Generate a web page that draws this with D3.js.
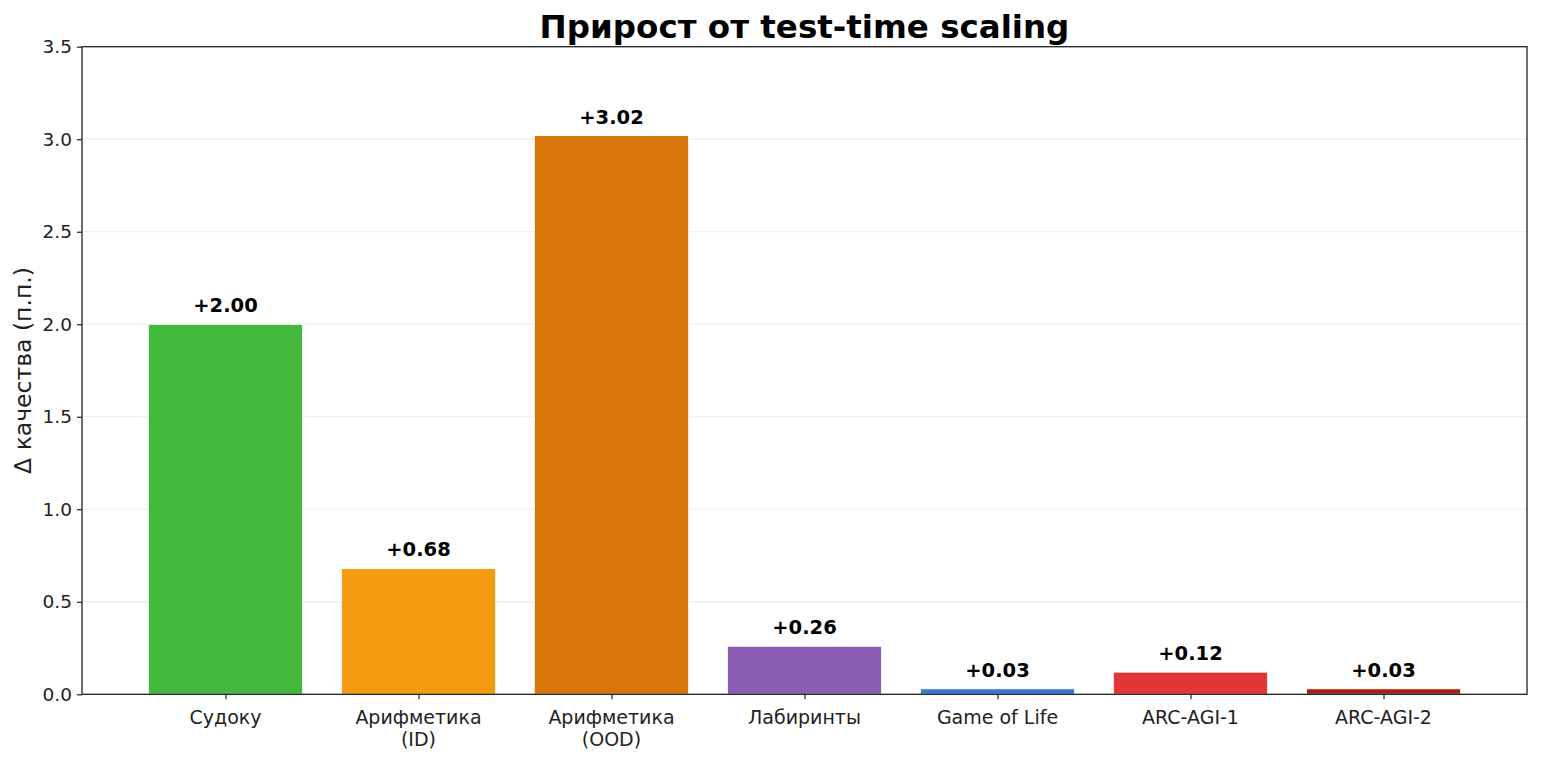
<!DOCTYPE html>
<html lang="ru">
<head>
<meta charset="UTF-8">
<title>Прирост от test-time scaling</title>
<script src="https://d3js.org/d3.v7.min.js"></script>
<style>
  body { margin: 0; background: #fff; }
  text { font-family: "DejaVu Sans", sans-serif; }
</style>
</head>
<body>
<script>
  // данные
  var categories = ['Судоку', 'Арифметика\n(ID)', 'Арифметика\n(OOD)', 'Лабиринты', 'Game of Life', 'ARC-AGI-1', 'ARC-AGI-2'];
  var gains = [2.00, 0.68, 3.02, 0.26, 0.03, 0.12, 0.03];
  var colors = ['#42b83d', '#f39c12', '#d77608', '#8c5db5', '#3878c8', '#e23636', '#a81d1e'];
  var yTicks = [0.0, 0.5, 1.0, 1.5, 2.0, 2.5, 3.0, 3.5];

  var width = 1560, height = 767;
  var plot = {left: 82, top: 46.7, right: 1527, bottom: 694.3};

  var svg = d3.select('body').append('svg').attr('width', width).attr('height', height);

  var half = (categories.length - 1) / 2;
  var x = d3.scaleLinear().domain([half - 3.7435, half + 3.7435]).range([plot.left, plot.right]);
  var y = d3.scaleLinear().domain([0, 3.5]).range([plot.bottom, plot.top]);
  var barW = 0.8;

  // сетка
  svg.append('g').selectAll('line').data(yTicks).enter().append('line')
     .attr('x1', plot.left).attr('x2', plot.right)
     .attr('y1', function(d){ return y(d); }).attr('y2', function(d){ return y(d); })
     .attr('stroke', '#ebebeb').attr('stroke-width', 1.2);

  // столбцы
  svg.append('g').selectAll('rect').data(gains).enter().append('rect')
     .attr('x', function(d, i){ return x(i - barW / 2); })
     .attr('width', function(){ return x(barW) - x(0); })
     .attr('y', function(d){ return y(d); })
     .attr('height', function(d){ return y(0) - y(d); })
     .attr('fill', function(d, i){ return colors[i]; })
     .attr('stroke', '#fff').attr('stroke-width', 1);

  // подписи над столбцами
  svg.append('g').selectAll('text').data(gains).enter().append('text')
     .attr('x', function(d, i){ return x(i); })
     .attr('y', function(d){ return y(d) - 12; })
     .attr('text-anchor', 'middle')
     .attr('font-size', '19.5px').attr('font-weight', 'bold').attr('fill', '#000')
     .text(function(d){ return '+' + d.toFixed(2); });

  // оси
  var yAxis = d3.axisLeft(y).tickValues(yTicks).tickFormat(d3.format('.1f')).tickSize(5).tickPadding(5);
  var gy = svg.append('g').attr('transform', 'translate(' + plot.left + ',0)').call(yAxis);
  gy.select('.domain').remove();
  gy.selectAll('text').attr('font-size', '18.5px').attr('fill', '#222').style('font-family', '"DejaVu Sans", sans-serif');
  gy.selectAll('line').attr('stroke', '#222').attr('stroke-width', 1.2);

  var xAxis = d3.axisBottom(x).tickValues(d3.range(categories.length)).tickFormat('').tickSize(5);
  var gx = svg.append('g').attr('transform', 'translate(0,' + plot.bottom + ')').call(xAxis);
  gx.select('.domain').remove();
  gx.selectAll('line').attr('stroke', '#222').attr('stroke-width', 1.2);

  // подписи категорий (в две строки)
  var lbl = svg.append('g').selectAll('text').data(categories).enter().append('text')
     .attr('x', function(d, i){ return x(i); })
     .attr('y', plot.bottom + 30)
     .attr('text-anchor', 'middle')
     .attr('font-size', '19px').attr('fill', '#222');
  lbl.each(function(d, i){
    var t = d3.select(this);
    d.split('\n').forEach(function(line, k){
      t.append('tspan').attr('x', x(i)).attr('dy', k === 0 ? 0 : 22).text(line);
    });
  });

  // рамка
  svg.append('rect')
     .attr('x', plot.left).attr('y', plot.top)
     .attr('width', plot.right - plot.left).attr('height', plot.bottom - plot.top)
     .attr('fill', 'none').attr('stroke', '#222').attr('stroke-width', 1.3);

  // заголовок и подпись оси Y
  svg.append('text')
     .attr('x', (plot.left + plot.right) / 2).attr('y', 38)
     .attr('text-anchor', 'middle')
     .attr('font-size', '32.5px').attr('font-weight', 'bold').attr('fill', '#000')
     .text('Прирост от test-time scaling');

  svg.append('text')
     .attr('transform', 'translate(31,' + ((plot.top + plot.bottom) / 2) + ') rotate(-90)')
     .attr('text-anchor', 'middle')
     .attr('font-size', '23.5px').attr('fill', '#222')
     .text('Δ качества (п.п.)');
</script>
</body>
</html>
